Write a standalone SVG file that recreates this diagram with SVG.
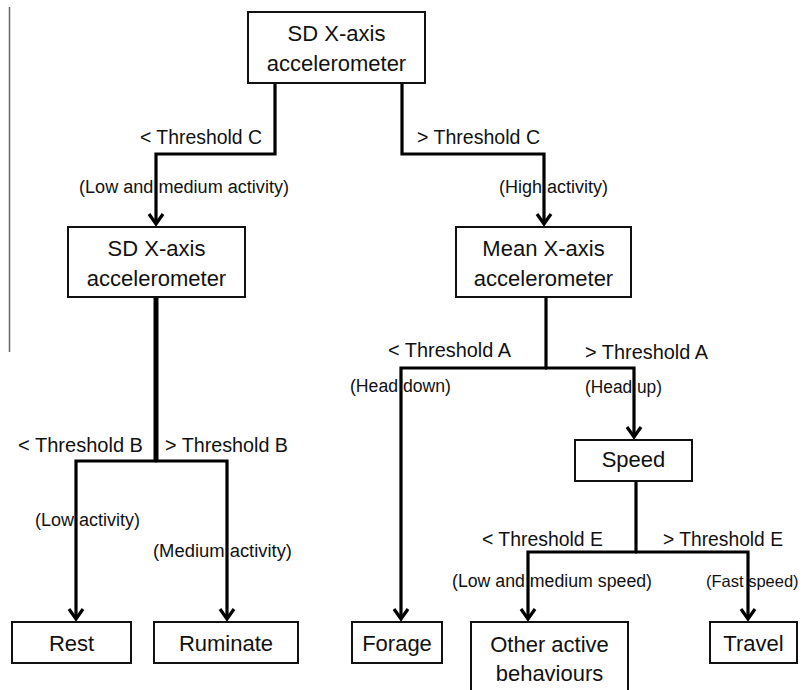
<svg xmlns="http://www.w3.org/2000/svg" width="803" height="690" viewBox="0 0 803 690">
<defs>
<style>
.box{fill:#fff;stroke:#111;stroke-width:2}
.bt{font-family:"Liberation Sans",Arial,sans-serif;font-size:22px;fill:#111;text-anchor:middle}
.th{font-family:"Liberation Sans",Arial,sans-serif;font-size:20px;fill:#111}
.pl{font-family:"Liberation Sans",Arial,sans-serif;font-size:18px;fill:#111}
.c{fill:none;stroke:#000;stroke-width:3.2;stroke-linejoin:miter}
.ca{fill:none;stroke:#000;stroke-width:3.2;marker-end:url(#arr)}
</style>
<marker id="arr" markerUnits="userSpaceOnUse" viewBox="-14 -10 16 20" refX="0" refY="0" markerWidth="16" markerHeight="20" orient="auto">
<path d="M-10,-7 L0,0 L-10,7" fill="none" stroke="#000" stroke-width="3.2"/>
</marker>
</defs>
<rect width="803" height="690" fill="#fff"/>
<line x1="9.5" y1="7" x2="9.5" y2="352" stroke="#666" stroke-width="1.5"/>

<g id="connectors">
<path class="ca" d="M275,83 V154 H156 V224"/>
<path class="ca" d="M402,83 V154 H544 V224"/>
<path fill="none" stroke="#000" stroke-width="5" d="M156,297 V462"/>
<path class="ca" d="M157,461 H76 V619"/>
<path class="ca" d="M155,461 H227 V619"/>
<path class="c" d="M546,297 V368"/>
<path class="ca" d="M547,368 H401 V619"/>
<path class="ca" d="M545,368 H634 V437"/>
<path class="c" d="M636,481 V552"/>
<path class="ca" d="M637,552 H528 V619"/>
<path class="ca" d="M635,552 H748 V619"/>
</g>

<g id="labels">
<text class="th" x="140" y="144" textLength="122" lengthAdjust="spacingAndGlyphs">&lt; Threshold C</text>
<text class="th" x="417" y="144" textLength="123" lengthAdjust="spacingAndGlyphs">&gt; Threshold C</text>
<text class="pl" x="79" y="193" textLength="210" lengthAdjust="spacingAndGlyphs">(Low and medium activity)</text>
<text class="pl" x="499" y="193" textLength="109" lengthAdjust="spacingAndGlyphs">(High activity)</text>
<text class="th" x="18" y="452" textLength="125" lengthAdjust="spacingAndGlyphs">&lt; Threshold B</text>
<text class="th" x="165" y="452" textLength="123" lengthAdjust="spacingAndGlyphs">&gt; Threshold B</text>
<text class="pl" x="35" y="526" textLength="105" lengthAdjust="spacingAndGlyphs">(Low activity)</text>
<text class="pl" x="153" y="557" textLength="139" lengthAdjust="spacingAndGlyphs">(Medium activity)</text>
<text class="th" x="388" y="357" textLength="123" lengthAdjust="spacingAndGlyphs">&lt; Threshold A</text>
<text class="th" x="585" y="359" textLength="123" lengthAdjust="spacingAndGlyphs">&gt; Threshold A</text>
<text class="pl" x="350" y="392" textLength="101" lengthAdjust="spacingAndGlyphs">(Head down)</text>
<text class="pl" x="585" y="393" textLength="77" lengthAdjust="spacingAndGlyphs">(Head up)</text>
<text class="th" x="482" y="546" textLength="121" lengthAdjust="spacingAndGlyphs">&lt; Threshold E</text>
<text class="th" x="663" y="546" textLength="120" lengthAdjust="spacingAndGlyphs">&gt; Threshold E</text>
<text class="pl" x="452" y="587" textLength="200" lengthAdjust="spacingAndGlyphs">(Low and medium speed)</text>
<text class="pl" x="706" y="587" style="font-size:16.5px">(Fast speed)</text>
</g>

<g id="root">
<rect class="box" x="248" y="12" width="177" height="71"/>
<text class="bt" x="336.5" y="41">SD X-axis</text>
<text class="bt" x="336.5" y="71">accelerometer</text>
</g>
<g id="sd2">
<rect class="box" x="68" y="227" width="177" height="70"/>
<text class="bt" x="156.5" y="256">SD X-axis</text>
<text class="bt" x="156.5" y="286">accelerometer</text>
</g>
<g id="mean">
<rect class="box" x="456" y="227" width="175" height="70"/>
<text class="bt" x="543.5" y="256">Mean X-axis</text>
<text class="bt" x="543.5" y="286">accelerometer</text>
</g>
<g id="speed">
<rect class="box" x="575" y="440" width="117" height="41"/>
<text class="bt" x="633.5" y="467">Speed</text>
</g>
<g id="rest">
<rect class="box" x="12" y="622" width="119" height="41"/>
<text class="bt" x="71.5" y="651">Rest</text>
</g>
<g id="ruminate">
<rect class="box" x="154" y="622" width="144" height="41"/>
<text class="bt" x="226" y="651">Ruminate</text>
</g>
<g id="forage">
<rect class="box" x="352" y="622" width="90" height="41"/>
<text class="bt" x="397" y="651">Forage</text>
</g>
<g id="other">
<rect class="box" x="471" y="622" width="157" height="80"/>
<text class="bt" x="549.5" y="652">Other active</text>
<text class="bt" x="549.5" y="681">behaviours</text>
</g>
<g id="travel">
<rect class="box" x="710" y="622" width="87" height="41"/>
<text class="bt" x="753.5" y="651">Travel</text>
</g>
</svg>
